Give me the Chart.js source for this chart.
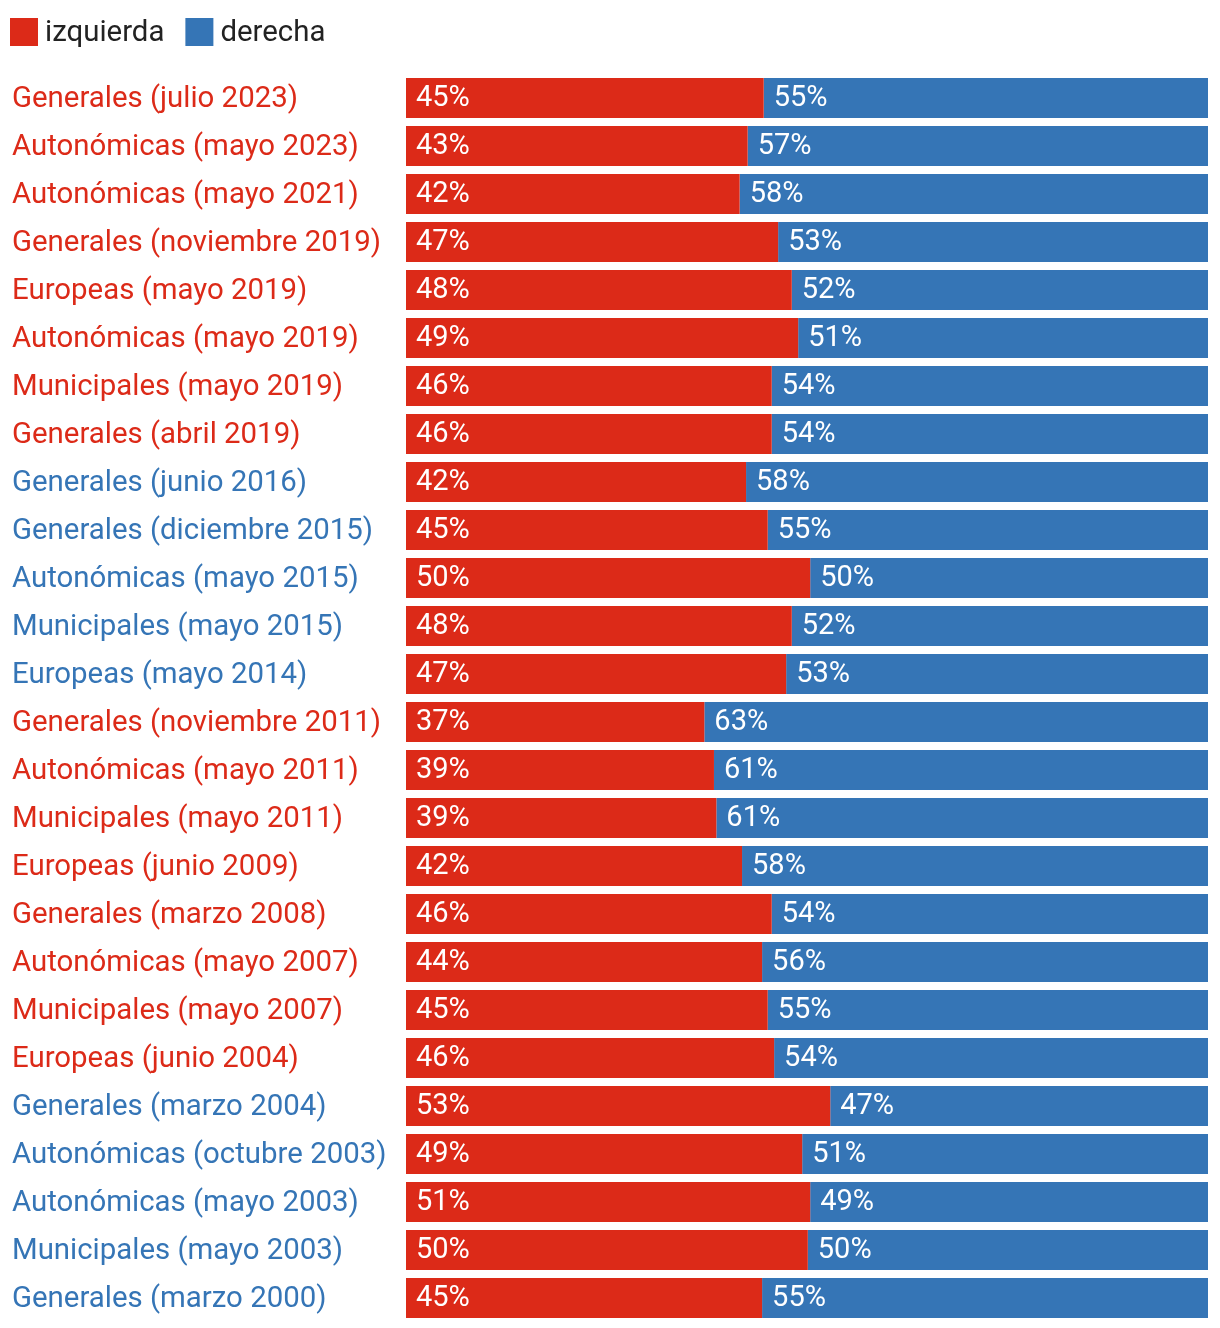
<!DOCTYPE html>
<html>
<head>
<meta charset="utf-8">
<script src="https://cdn.jsdelivr.net/npm/chart.js@4/dist/chart.umd.min.js"></script>
<style>
  html, body { margin: 0; padding: 0; background: #fff; }
  #wrap { position: relative; width: 1220px; height: 1328px; }
</style>
</head>
<body>
<div id="wrap"><canvas id="c"></canvas></div>
<script>
const categories = [
  'Generales (julio 2023)', 'Autonómicas (mayo 2023)', 'Autonómicas (mayo 2021)',
  'Generales (noviembre 2019)', 'Europeas (mayo 2019)', 'Autonómicas (mayo 2019)',
  'Municipales (mayo 2019)', 'Generales (abril 2019)', 'Generales (junio 2016)',
  'Generales (diciembre 2015)', 'Autonómicas (mayo 2015)', 'Municipales (mayo 2015)',
  'Europeas (mayo 2014)', 'Generales (noviembre 2011)', 'Autonómicas (mayo 2011)',
  'Municipales (mayo 2011)', 'Europeas (junio 2009)', 'Generales (marzo 2008)',
  'Autonómicas (mayo 2007)', 'Municipales (mayo 2007)', 'Europeas (junio 2004)',
  'Generales (marzo 2004)', 'Autonómicas (octubre 2003)', 'Autonómicas (mayo 2003)',
  'Municipales (mayo 2003)', 'Generales (marzo 2000)'
];
// which side each category label is coloured as
const categorySide = [
  'izquierda','izquierda','izquierda','izquierda','izquierda','izquierda','izquierda','izquierda',
  'derecha','derecha','derecha','derecha','derecha',
  'izquierda','izquierda','izquierda','izquierda','izquierda','izquierda','izquierda','izquierda',
  'derecha','derecha','derecha','derecha','derecha'
];
const izquierda = [44.6, 42.6, 41.6, 46.4, 48.1, 48.9, 45.6, 45.6, 42.4, 45.1, 50.4, 48.1, 47.4,
                   37.2, 38.4, 38.7, 41.9, 45.6, 44.4, 45.1, 45.9, 52.9, 49.4, 50.4, 50.1, 44.4];
const derecha   = [55.4, 57.4, 58.4, 53.6, 51.9, 51.1, 54.4, 54.4, 57.6, 54.9, 49.6, 51.9, 52.6,
                   62.8, 61.6, 61.3, 58.1, 54.4, 55.6, 54.9, 54.1, 47.1, 50.6, 49.6, 49.9, 55.6];
const izquierdaLabels = [45, 43, 42, 47, 48, 49, 46, 46, 42, 45, 50, 48, 47,
                         37, 39, 39, 42, 46, 44, 45, 46, 53, 49, 51, 50, 45];
const derechaLabels   = [55, 57, 58, 53, 52, 51, 54, 54, 58, 55, 50, 52, 53,
                         63, 61, 61, 58, 54, 56, 55, 54, 47, 51, 49, 50, 55];

const RED = '#dc2a18';
const BLUE = '#3575b6';
const FONT = 'Roboto, "Noto Sans", sans-serif';
const sideColor = { izquierda: RED, derecha: BLUE };

const valueLabels = {
  id: 'valueLabels',
  afterDatasetsDraw(chart) {
    const ctx = chart.ctx;
    ctx.save();
    ctx.font = '29px ' + FONT;
    ctx.fillStyle = '#ffffff';
    ctx.textAlign = 'left';
    ctx.textBaseline = 'middle';
    chart.data.datasets.forEach((ds, di) => {
      const meta = chart.getDatasetMeta(di);
      meta.data.forEach((bar, i) => {
        const left = Math.min(bar.base, bar.x);
        ctx.fillText(ds.valueLabels[i] + '%', left + 10, bar.y + 1);
      });
    });
    ctx.restore();
  }
};

const customLegend = {
  id: 'customLegend',
  afterDraw(chart) {
    const ctx = chart.ctx;
    ctx.save();
    ctx.font = '29.4px ' + FONT;
    ctx.textAlign = 'left';
    ctx.textBaseline = 'middle';
    let x = 10;
    const y = 18, box = 28;
    chart.data.datasets.forEach(ds => {
      ctx.fillStyle = ds.backgroundColor;
      ctx.fillRect(x, y, box, box);
      ctx.fillStyle = '#222222';
      ctx.fillText(ds.label, x + box + 7, y + box / 2 + 2);
      x += box + 7 + ctx.measureText(ds.label).width + 21;
    });
    ctx.restore();
  }
};

new Chart(document.getElementById('c'), {
  type: 'bar',
  data: {
    labels: categories,
    datasets: [
      { label: 'izquierda', data: izquierda, valueLabels: izquierdaLabels,
        backgroundColor: RED, borderWidth: 0, categoryPercentage: 1, barPercentage: 40 / 48 },
      { label: 'derecha', data: derecha, valueLabels: derechaLabels,
        backgroundColor: BLUE, borderWidth: 0, categoryPercentage: 1, barPercentage: 40 / 48 }
    ]
  },
  options: {
    indexAxis: 'y',
    responsive: true,
    maintainAspectRatio: false,
    animation: false,
    layout: { padding: { left: 12, right: 12, top: 74, bottom: 6 } },
    plugins: { legend: { display: false }, tooltip: { enabled: false } },
    scales: {
      x: { stacked: true, min: 0, max: 100, display: false },
      y: {
        stacked: true,
        grid: { display: false, drawTicks: false },
        border: { display: false },
        afterFit(scale) {
          scale.width = 394;
          scale.paddingTop = 0;
          scale.paddingBottom = 0;
        },
        ticks: {
          crossAlign: 'far',
          padding: 0,
          labelOffset: 2,
          autoSkip: false,
          font: { family: FONT, size: 29.4 },
          color: (c) => sideColor[categorySide[c.index]]
        }
      }
    }
  },
  plugins: [valueLabels, customLegend]
});
</script>
</body>
</html>
